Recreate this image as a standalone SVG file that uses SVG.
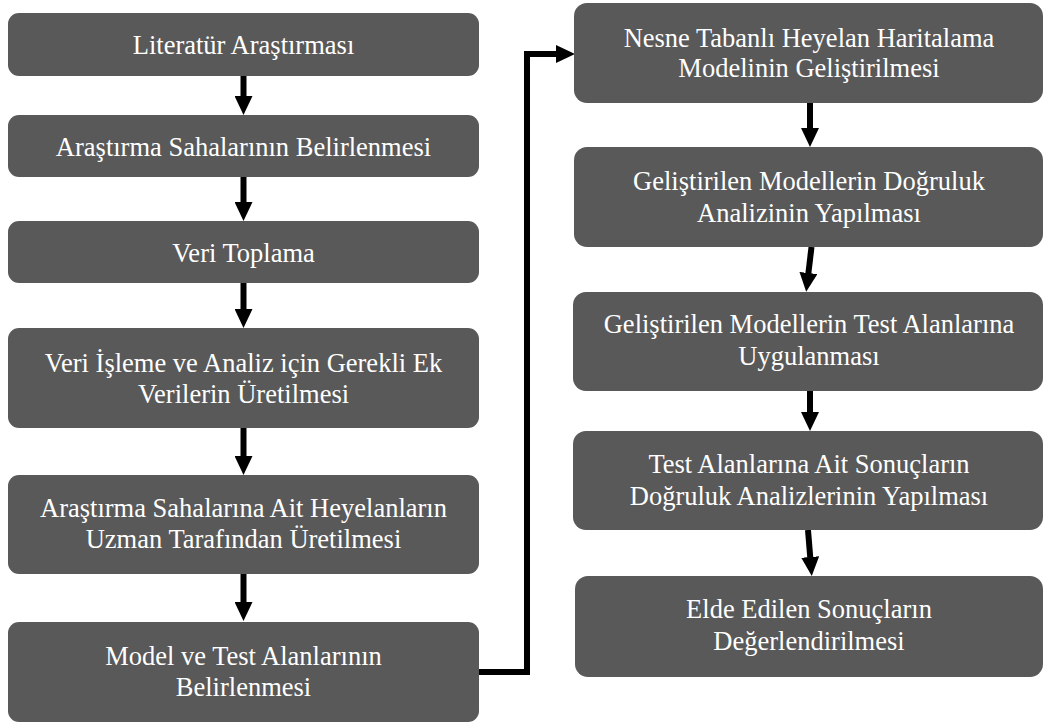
<svg xmlns="http://www.w3.org/2000/svg" width="1044" height="725" viewBox="0 0 1044 725">
<style>
.box{fill:#595959;}
.t{font-size:26.5px;fill:#ffffff;text-anchor:middle;}
.c{fill:none;stroke:#000000;stroke-width:6;}
</style>
<defs>
<marker id="ah" markerUnits="userSpaceOnUse" markerWidth="19" markerHeight="18" refX="1" refY="9" orient="auto" viewBox="0 0 19 18">
<path d="M0,0 L19,9 L0,18 z" fill="#000000"/>
</marker>
</defs>
<rect width="1044" height="725" fill="#ffffff"/>
<g id="connectors">
<path class="c" d="M243.5,76 V97" marker-end="url(#ah)"/>
<path class="c" d="M243.5,177 V203" marker-end="url(#ah)"/>
<path class="c" d="M243.5,283 V310" marker-end="url(#ah)"/>
<path class="c" d="M243.5,428 V457" marker-end="url(#ah)"/>
<path class="c" d="M243.5,574 V603" marker-end="url(#ah)"/>
<path class="c" d="M479,672 H527 V54 H557" marker-end="url(#ah)"/>
<path class="c" d="M810,103 V129" marker-end="url(#ah)"/>
<path class="c" d="M811.5,247 L808.3,274" marker-end="url(#ah)"/>
<path class="c" d="M810,391 V413" marker-end="url(#ah)"/>
<path class="c" d="M808,530 L810.3,558" marker-end="url(#ah)"/>
</g>
<g font-family="Liberation Serif, Times New Roman, serif">
<g id="n1"><rect class="box" x="8" y="13" width="471" height="63" rx="11"/><text class="t" x="243.5" y="54">Literatür Araştırması</text></g>
<g id="n2"><rect class="box" x="8" y="115" width="471" height="62" rx="11"/><text class="t" x="243.5" y="155.7">Araştırma Sahalarının Belirlenmesi</text></g>
<g id="n3"><rect class="box" x="8" y="221" width="471" height="62" rx="11"/><text class="t" x="243.5" y="261.7">Veri Toplama</text></g>
<g id="n4"><rect class="box" x="8" y="328" width="471" height="100" rx="11"/><text class="t" x="243.5" y="371.7">Veri İşleme ve Analiz için Gerekli Ek</text><text class="t" x="243.5" y="402.7">Verilerin Üretilmesi</text></g>
<g id="n5"><rect class="box" x="8" y="475" width="471" height="99" rx="11"/><text class="t" x="243.5" y="516.7">Araştırma Sahalarına Ait Heyelanların</text><text class="t" x="243.5" y="548.3">Uzman Tarafından Üretilmesi</text></g>
<g id="n6"><rect class="box" x="8" y="622" width="471" height="100" rx="11"/><text class="t" x="243.5" y="665">Model ve Test Alanlarının</text><text class="t" x="243.5" y="696">Belirlenmesi</text></g>
<g id="n7"><rect class="box" x="574" y="3" width="469" height="100" rx="13"/><text class="t" x="809" y="46.7">Nesne Tabanlı Heyelan Haritalama</text><text class="t" x="809" y="77.3">Modelinin Geliştirilmesi</text></g>
<g id="n8"><rect class="box" x="574" y="147" width="469" height="100" rx="13"/><text class="t" x="809" y="190">Geliştirilen Modellerin Doğruluk</text><text class="t" x="809" y="221.7">Analizinin Yapılması</text></g>
<g id="n9"><rect class="box" x="573" y="292" width="470" height="99" rx="13"/><text class="t" x="809" y="333.3">Geliştirilen Modellerin Test Alanlarına</text><text class="t" x="809" y="365">Uygulanması</text></g>
<g id="n10"><rect class="box" x="573" y="431" width="470" height="99" rx="13"/><text class="t" x="809" y="473.3">Test Alanlarına Ait Sonuçların</text><text class="t" x="809" y="505">Doğruluk Analizlerinin Yapılması</text></g>
<g id="n11"><rect class="box" x="575" y="576" width="468" height="101" rx="13"/><text class="t" x="809" y="618.3">Elde Edilen Sonuçların</text><text class="t" x="809" y="650">Değerlendirilmesi</text></g>
</g>
</svg>
